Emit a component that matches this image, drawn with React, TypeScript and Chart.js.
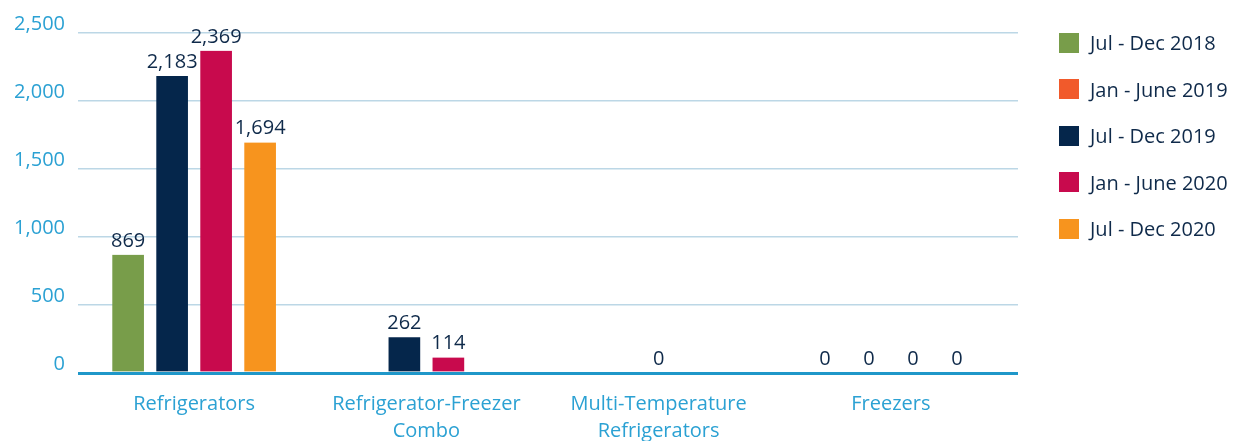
import React, { useEffect, useRef } from 'react';
import { Chart, registerables } from 'chart.js';

Chart.register(...registerables);

// ---- data ----
const categories: (string | string[])[] = [
  'Refrigerators',
  ['Refrigerator-Freezer', 'Combo'],
  ['Multi-Temperature', 'Refrigerators'],
  'Freezers',
];
const seriesLabels = ['Jul - Dec 2018', 'Jan - June 2019', 'Jul - Dec 2019', 'Jan - June 2020', 'Jul - Dec 2020'];
const seriesColors = ['#789d4a', '#f15a2b', '#05264b', '#c80a4d', '#f7941e'];
const julDec2018: (number | null)[] = [869, null, null, 0];
const janJun2019: (number | null)[] = [null, null, null, null];
const julDec2019: (number | null)[] = [2183, 262, null, 0];
const janJun2020: (number | null)[] = [2369, 114, null, 0];
const julDec2020: (number | null)[] = [1694, null, 0, 0];
const yTicks = [0, 500, 1000, 1500, 2000, 2500];

// ---- style ----
const FONT = '"Open Sans", Lato, sans-serif';
const FONT_SIZE = 20;
const AXIS_BLUE = '#2ba1d3';
const NAVY = '#0f2a4a';
const W = 1250;
const H = 441;
const PLOT_RIGHT = 1018;
const CATEGORY_RIGHT = 1007;
const SLOT = 44;
const BAR = 31;

const fmt = (v: number) => Number(v).toLocaleString('en-US');

const valueLabels = {
  id: 'valueLabels',
  afterDatasetsDraw(chart: any) {
    const { ctx } = chart;
    ctx.save();
    ctx.font = `${FONT_SIZE}px ${FONT}`;
    ctx.fillStyle = NAVY;
    ctx.textAlign = 'center';
    ctx.textBaseline = 'middle';
    chart.data.datasets.forEach((ds: any, i: number) => {
      const meta = chart.getDatasetMeta(i);
      meta.data.forEach((el: any, j: number) => {
        const v = ds.data[j];
        if (v === null || v === undefined) return;
        ctx.fillText(fmt(v), el.x, el.y - 14);
      });
    });
    ctx.restore();
  },
};

const categorySpan = {
  id: 'categorySpan',
  afterLayout(chart: any) {
    const x = chart.scales.x;
    x.right = CATEGORY_RIGHT;
    x.width = x.right - x.left;
    x.configure();
  },
};

export default function App() {
  const ref = useRef<HTMLCanvasElement | null>(null);

  useEffect(() => {
    if (!ref.current) return;
    const series = [julDec2018, janJun2019, julDec2019, janJun2020, julDec2020];
    const side = (SLOT - BAR) / 2;
    const chart = new Chart(ref.current, {
      type: 'bar',
      data: {
        labels: categories as any,
        datasets: series.map((d, i) => ({
          label: seriesLabels[i],
          data: d,
          backgroundColor: seriesColors[i],
          borderColor: 'rgba(0,0,0,0)',
          borderWidth: { left: side, right: side, top: 0, bottom: 0 },
          borderSkipped: false,
          skipNull: true,
          barThickness: SLOT,
        })) as any,
      },
      options: {
        responsive: false,
        animation: false,
        layout: { padding: { top: 33, right: W - PLOT_RIGHT, left: 0, bottom: 0 } },
        plugins: { legend: { display: false }, tooltip: { enabled: false } },
        scales: {
          x: {
            grid: { display: false, drawTicks: false },
            border: { display: false },
            ticks: {
              color: AXIS_BLUE,
              font: { family: FONT, size: FONT_SIZE, lineHeight: 1.35 },
              padding: 18,
              maxRotation: 0,
              autoSkip: false,
            },
            afterFit: (s: any) => {
              s.height = 68;
            },
          },
          y: {
            min: 0,
            max: 2500,
            grid: {
              color: (c: any) => (c.tick && c.tick.value === 0 ? '#1f97c9' : '#bcd7e6'),
              lineWidth: (c: any) => (c.tick && c.tick.value === 0 ? 3 : 1.5),
              drawTicks: false,
            },
            border: { display: false },
            ticks: {
              color: AXIS_BLUE,
              font: { family: FONT, size: FONT_SIZE },
              padding: 13,
              labelOffset: -9,
              callback: (v: any) => fmt(v),
            },
            afterBuildTicks: (s: any) => {
              s.ticks = yTicks.map((v) => ({ value: v }));
            },
            afterFit: (s: any) => {
              s.width = 78;
            },
          },
        },
      } as any,
      plugins: [valueLabels, categorySpan],
    });
    return () => chart.destroy();
  }, []);

  return (
    <div style={{ position: 'absolute', left: 0, top: 0, width: W, height: H, overflow: 'hidden', background: '#fff' }}>
      <canvas ref={ref} width={W} height={H} style={{ display: 'block' }} />
      {seriesLabels.map((label, i) => (
        <div
          key={label}
          style={{
            position: 'absolute',
            left: 1059,
            top: 32.5 + i * 46.5,
            height: 20,
            display: 'flex',
            alignItems: 'center',
            whiteSpace: 'nowrap',
            fontFamily: FONT,
            fontSize: FONT_SIZE,
            color: NAVY,
          }}
        >
          <span style={{ display: 'inline-block', width: 20, height: 20, background: seriesColors[i], marginRight: 11 }} />
          {label}
        </div>
      ))}
    </div>
  );
}
